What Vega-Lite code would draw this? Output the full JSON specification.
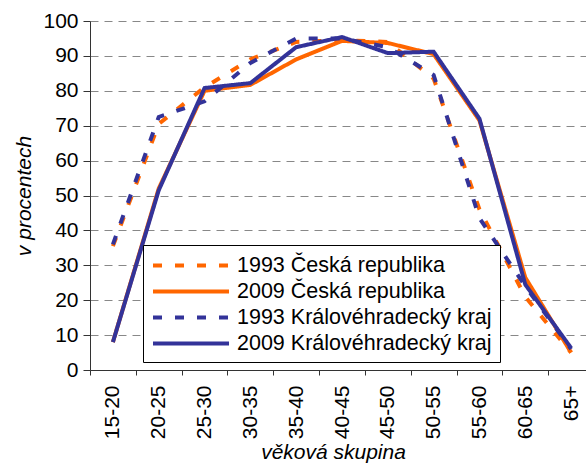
{
  "$schema": "https://vega.github.io/schema/vega-lite/v6.json",
  "width": 496,
  "height": 349,
  "autosize": {"type": "none"},
  "padding": {"left": 90, "top": 21, "right": 0, "bottom": 96},
  "background": "white",
  "config": {"view": {"stroke": null}, "font": "Liberation Sans"},
  "data": {"values": [
    {"skupina": "15-20", "serie": "1993 Česká republika", "hodnota": 35.5},
    {"skupina": "20-25", "serie": "1993 Česká republika", "hodnota": 70.5},
    {"skupina": "25-30", "serie": "1993 Česká republika", "hodnota": 81},
    {"skupina": "30-35", "serie": "1993 Česká republika", "hodnota": 89},
    {"skupina": "35-40", "serie": "1993 Česká republika", "hodnota": 94},
    {"skupina": "40-45", "serie": "1993 Česká republika", "hodnota": 94.5},
    {"skupina": "45-50", "serie": "1993 Česká republika", "hodnota": 94},
    {"skupina": "50-55", "serie": "1993 Česká republika", "hodnota": 83.5},
    {"skupina": "55-60", "serie": "1993 Česká republika", "hodnota": 46},
    {"skupina": "60-65", "serie": "1993 Česká republika", "hodnota": 21},
    {"skupina": "65+", "serie": "1993 Česká republika", "hodnota": 5},
    {"skupina": "15-20", "serie": "2009 Česká republika", "hodnota": 8},
    {"skupina": "20-25", "serie": "2009 Česká republika", "hodnota": 52},
    {"skupina": "25-30", "serie": "2009 Česká republika", "hodnota": 80},
    {"skupina": "30-35", "serie": "2009 Česká republika", "hodnota": 81.7},
    {"skupina": "35-40", "serie": "2009 Česká republika", "hodnota": 89},
    {"skupina": "40-45", "serie": "2009 Česká republika", "hodnota": 94.3},
    {"skupina": "45-50", "serie": "2009 Česká republika", "hodnota": 93.7},
    {"skupina": "50-55", "serie": "2009 Česká republika", "hodnota": 90.5},
    {"skupina": "55-60", "serie": "2009 Česká republika", "hodnota": 71.5},
    {"skupina": "60-65", "serie": "2009 Česká republika", "hodnota": 26.5},
    {"skupina": "65+", "serie": "2009 Česká republika", "hodnota": 5},
    {"skupina": "15-20", "serie": "1993 Královéhradecký kraj", "hodnota": 36},
    {"skupina": "20-25", "serie": "1993 Královéhradecký kraj", "hodnota": 72.5},
    {"skupina": "25-30", "serie": "1993 Královéhradecký kraj", "hodnota": 77},
    {"skupina": "30-35", "serie": "1993 Královéhradecký kraj", "hodnota": 88},
    {"skupina": "35-40", "serie": "1993 Královéhradecký kraj", "hodnota": 95},
    {"skupina": "40-45", "serie": "1993 Královéhradecký kraj", "hodnota": 95},
    {"skupina": "45-50", "serie": "1993 Královéhradecký kraj", "hodnota": 92.5},
    {"skupina": "50-55", "serie": "1993 Královéhradecký kraj", "hodnota": 84.5},
    {"skupina": "55-60", "serie": "1993 Královéhradecký kraj", "hodnota": 43.5},
    {"skupina": "60-65", "serie": "1993 Královéhradecký kraj", "hodnota": 24},
    {"skupina": "65+", "serie": "1993 Královéhradecký kraj", "hodnota": 6},
    {"skupina": "15-20", "serie": "2009 Královéhradecký kraj", "hodnota": 8},
    {"skupina": "20-25", "serie": "2009 Královéhradecký kraj", "hodnota": 51.5},
    {"skupina": "25-30", "serie": "2009 Královéhradecký kraj", "hodnota": 80.8},
    {"skupina": "30-35", "serie": "2009 Královéhradecký kraj", "hodnota": 82.2},
    {"skupina": "35-40", "serie": "2009 Královéhradecký kraj", "hodnota": 92.5},
    {"skupina": "40-45", "serie": "2009 Královéhradecký kraj", "hodnota": 95.4},
    {"skupina": "45-50", "serie": "2009 Královéhradecký kraj", "hodnota": 90.8},
    {"skupina": "50-55", "serie": "2009 Královéhradecký kraj", "hodnota": 91.2},
    {"skupina": "55-60", "serie": "2009 Královéhradecký kraj", "hodnota": 72},
    {"skupina": "60-65", "serie": "2009 Královéhradecký kraj", "hodnota": 24.5},
    {"skupina": "65+", "serie": "2009 Královéhradecký kraj", "hodnota": 6.3}
  ]},
  "mark": {"type": "line", "strokeWidth": 4, "strokeCap": "butt", "strokeJoin": "miter"},
  "encoding": {
    "x": {
      "field": "skupina", "type": "ordinal",
      "sort": ["15-20", "20-25", "25-30", "30-35", "35-40", "40-45", "45-50", "50-55", "55-60", "60-65", "65+"],
      "scale": {"type": "band", "range": [0, 504], "paddingInner": 0, "paddingOuter": 0},
      "axis": {
        "title": "věková skupina", "titleFontStyle": "italic", "titleFontSize": 21, "titleFontWeight": "normal", "titleColor": "black", "titlePadding": 3, "titleX": 243,
        "labelAngle": 270, "labelAlign": "right", "labelBaseline": "middle", "labelFontSize": 21, "labelColor": "black", "labelPadding": 10,
        "tickBand": "extent", "tickSize": 5, "tickColor": "#333333", "domainColor": "#333333", "grid": false
      }
    },
    "y": {
      "field": "hodnota", "type": "quantitative",
      "scale": {"domain": [0, 100], "nice": false},
      "axis": {
        "title": "v procentech", "titleFontStyle": "italic", "titleFontSize": 21, "titleFontWeight": "normal", "titleColor": "black", "titlePadding": 8,
        "values": [0, 10, 20, 30, 40, 50, 60, 70, 80, 90, 100],
        "labelFontSize": 21, "labelColor": "black", "labelPadding": 5,
        "tickSize": 7, "tickColor": "#333333", "domainColor": "#333333",
        "grid": true, "gridDash": [8, 6], "gridColor": "#888888", "gridWidth": 1
      }
    },
    "color": {
      "field": "serie", "type": "nominal",
      "scale": {"domain": ["1993 Česká republika", "2009 Česká republika", "1993 Královéhradecký kraj", "2009 Královéhradecký kraj"], "range": ["#FF6600", "#FF6600", "#333399", "#333399"]},
      "legend": {
        "title": null, "orient": "none", "legendX": 53, "legendY": 224,
        "symbolType": "M-1,0H6.24", "symbolSize": 441, "symbolStrokeWidth": 4,
        "labelFontSize": 21.5, "labelColor": "black", "labelOffset": 61, "labelLimit": 400,
        "strokeColor": "black", "fillColor": "white", "padding": 8, "rowPadding": 3
      }
    },
    "strokeDash": {
      "field": "serie", "type": "nominal",
      "scale": {"domain": ["1993 Česká republika", "2009 Česká republika", "1993 Královéhradecký kraj", "2009 Královéhradecký kraj"], "range": [[9, 13], [1, 0], [9, 13], [1, 0]]}
    }
  }
}
